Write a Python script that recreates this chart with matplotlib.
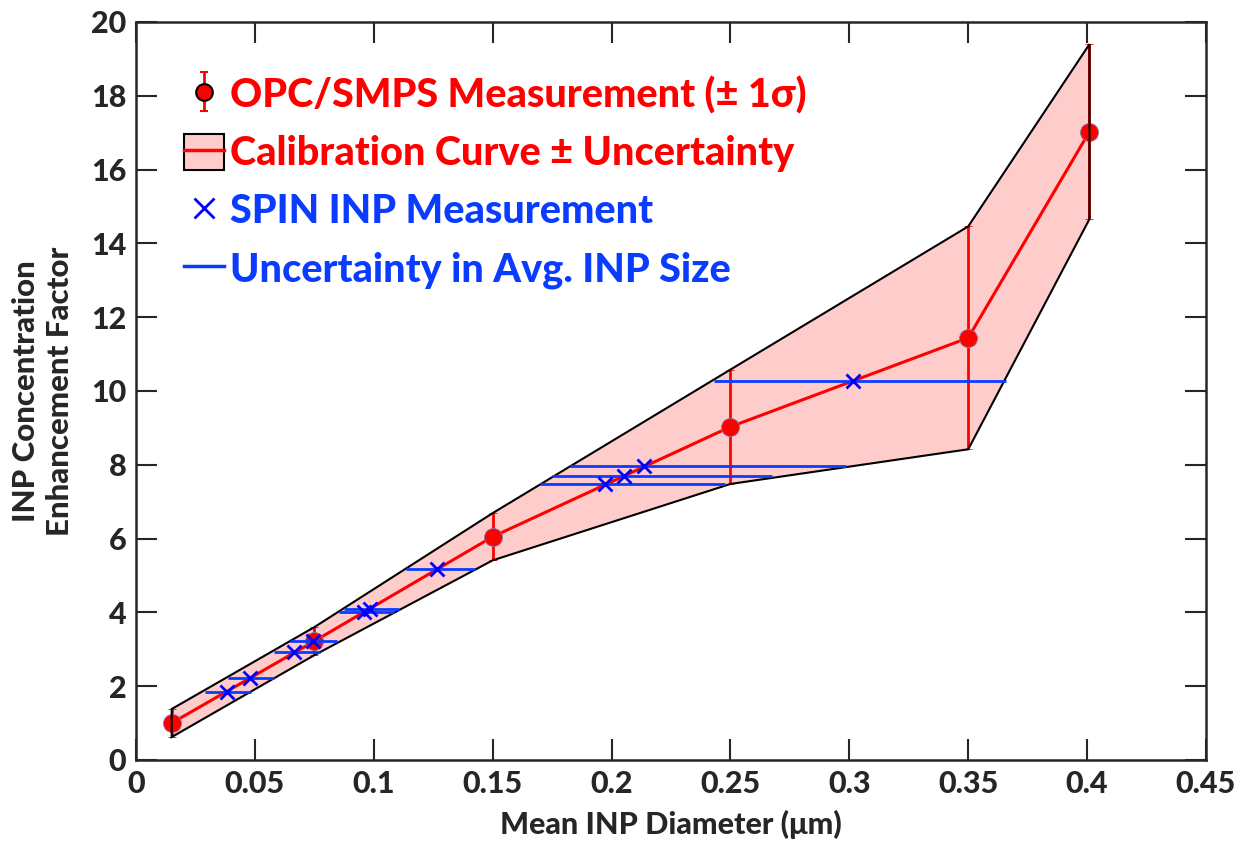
import matplotlib.pyplot as plt
import numpy as np
from matplotlib.patches import Patch
from matplotlib.lines import Line2D

# OPC/SMPS measurements (calibration points)
opc_d = [0.015, 0.075, 0.15, 0.25, 0.35, 0.401]
opc_ef = [1.0, 3.22, 6.05, 9.03, 11.44, 17.03]
opc_sd = [0.38, 0.38, 0.64, 1.55, 3.02, 2.37]

# SPIN INP measurements, with min/max of the avg. INP size
spin_d = [0.0382, 0.048, 0.0666, 0.0746, 0.0957, 0.0985, 0.1265, 0.1974, 0.2051, 0.2135, 0.3016]
spin_ef = [1.83, 2.23, 2.92, 3.22, 4.00, 4.09, 5.17, 7.47, 7.70, 7.97, 10.28]
spin_lo = [0.029, 0.0386, 0.0582, 0.0648, 0.0854, 0.0873, 0.1136, 0.170, 0.175, 0.1827, 0.243]
spin_hi = [0.0484, 0.0582, 0.0774, 0.0845, 0.1083, 0.1108, 0.1427, 0.2479, 0.2675, 0.2984, 0.3657]

xticks = [0, 0.05, 0.1, 0.15, 0.2, 0.25, 0.3, 0.35, 0.4, 0.45]
xticklabels = ['0', '0.05', '0.1', '0.15', '0.2', '0.25', '0.3', '0.35', '0.4', '0.45']

plt.rcParams['font.family'] = ['Lato', 'DejaVu Sans']
plt.rcParams['font.weight'] = 'black'

red = '#ff0000'
pink = '#ffcccc'
blue = '#0a3cff'
axcol = '#262626'

fig = plt.figure(figsize=(12.5, 8.46), dpi=100)
ax = fig.add_axes([0.1088, 0.1017, 0.856, 0.8723])

d = np.array(opc_d)
ef = np.array(opc_ef)
sd = np.array(opc_sd)

# uncertainty band
band_x = np.concatenate([d, d[::-1]])
band_y = np.concatenate([ef + sd, (ef - sd)[::-1]])
ax.fill(band_x, band_y, color=pink, lw=0, zorder=1)

# calibration curve with error bars
ax.errorbar(opc_d, opc_ef, yerr=opc_sd, color=red, lw=2.2, elinewidth=2,
            capsize=3, capthick=1.5, marker='o', ms=13, mfc=red,
            mec='#7f7faa', mew=0.6, zorder=2)

ax.fill(band_x, band_y, fill=False, ec='black', lw=1.5, zorder=3)

# SPIN points
sx = np.array(spin_d)
xerr = [sx - np.array(spin_lo), np.array(spin_hi) - sx]
ax.errorbar(spin_d, spin_ef, xerr=xerr, fmt='none', ecolor=blue, elinewidth=2, zorder=4)
ax.plot(spin_d, spin_ef, 'x', color='#0000ff', ms=10, mew=2, zorder=5)

ax.set_xlim(0, 0.45)
ax.set_ylim(0, 20)
ax.set_xticks(xticks)
ax.set_xticklabels(xticklabels)
ax.set_yticks(np.arange(0, 21, 2))
ax.tick_params(direction='in', length=15, width=1.5, colors=axcol, labelsize=22,
               top=True, right=True, pad=7)
for s in ax.spines.values():
    s.set_linewidth(1.8)
    s.set_color(axcol)

ax.set_xlabel('Mean INP Diameter (μm)', fontsize=22, fontweight='black', color=axcol,
              labelpad=9)
ax.set_ylabel('INP Concentration\nEnhancement Factor', fontsize=22.5, fontweight='black',
              color=axcol, labelpad=12, linespacing=1.25)

# legend
h1 = ax.errorbar([np.nan], [np.nan], yerr=[1], color=red, lw=0, elinewidth=2,
                 capsize=3, marker='o', ms=12, mfc=red, mec='black', mew=1.5)
h2 = (Patch(fc=pink, ec='black', lw=1.5), Line2D([], [], color=red, lw=2.5))
h3 = Line2D([], [], color='#0000ff', marker='x', lw=0, ms=14, mew=2)
h4 = Line2D([], [], color=blue, lw=2.5)
ax.legend([h1, h2, h3, h4],
          ['OPC/SMPS Measurement (± 1σ)', 'Calibration Curve ± Uncertainty',
           'SPIN INP Measurement', 'Uncertainty in Avg. INP Size'],
          loc='upper left', bbox_to_anchor=(0.012, 0.975), frameon=False,
          labelcolor=[red, red, blue, blue],
          handlelength=1.0, handleheight=1.0, handletextpad=0.15, labelspacing=0.5,
          prop={'weight': 'black', 'size': 28.5})

fig.savefig('out.png', dpi=100)
